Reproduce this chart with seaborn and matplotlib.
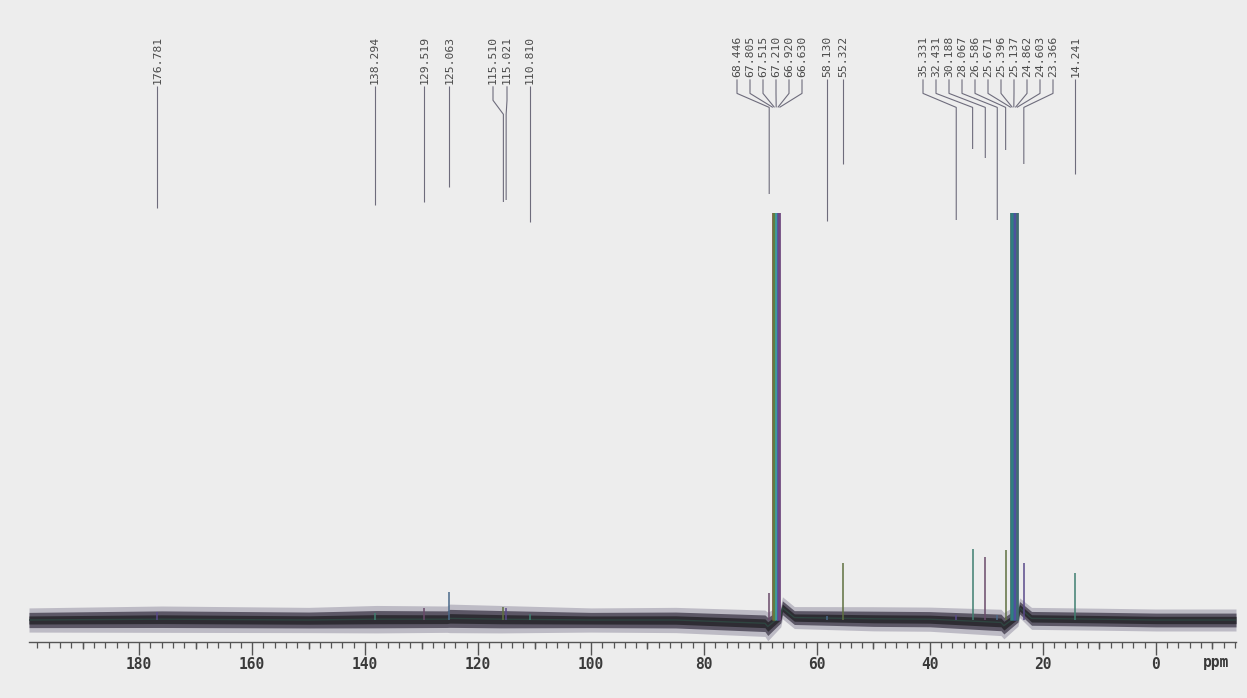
import numpy as np
import pandas as pd
import matplotlib
matplotlib.use("Agg")
import matplotlib.pyplot as plt
import seaborn as sns

# ---------------- data ----------------
peak_ppm = [176.781, 138.294, 129.519, 125.063, 115.510, 115.021, 110.810,
            68.446, 67.805, 67.515, 67.210, 66.920, 66.630,
            58.130, 55.322,
            35.331, 32.431, 30.188, 28.067, 26.586,
            25.671, 25.396, 25.137, 24.862, 24.603, 23.366, 14.241]
peak_labels = ["176.781", "138.294", "129.519", "125.063", "115.510", "115.021", "110.810",
               "68.446", "67.805", "67.515", "67.210", "66.920", "66.630",
               "58.130", "55.322",
               "35.331", "32.431", "30.188", "28.067", "26.586",
               "25.671", "25.396", "25.137", "24.862", "24.603", "23.366", "14.241"]
# relative intensity (1.0 = top of plotted window; larger = clipped)
peak_height = [0.020, 0.017, 0.030, 0.069, 0.032, 0.030, 0.015,
               0.066, 1.5, 1.5, 1.5, 1.5, 1.5,
               0.010, 0.140,
               0.012, 0.174, 0.154, 0.012, 0.172,
               1.5, 1.5, 1.5, 1.5, 1.5, 0.140, 0.115]

tick_values = [180, 160, 140, 120, 100, 80, 60, 40, 20, 0]
tick_labels = ["180", "160", "140", "120", "100", "80", "60", "40", "20", "0"]

# baseline noise envelope (centre and half-width)
noise_ppm = [199.5, 176.0, 150.0, 138.0, 125.5, 125.0, 116.0, 100.0, 85.0, 69.2, 68.7,
             66.4, 66.1, 64.0, 50.0, 40.0, 27.4, 26.9, 24.4, 24.1, 22.0, 10.0, 0.0, -14.2]
noise_mid = [0.000, 0.002, 0.000, 0.002, 0.002, 0.004, 0.002, 0.000, 0.000, -0.008, -0.016,
             0.010, 0.030, 0.006, 0.003, 0.002, -0.006, -0.014, 0.012, 0.030, 0.004,
             0.002, 0.000, 0.000]
noise_half = [0.022, 0.024, 0.023, 0.025, 0.024, 0.026, 0.025, 0.022, 0.023, 0.024, 0.026,
              0.020, 0.020, 0.020, 0.022, 0.022, 0.024, 0.024, 0.020, 0.018, 0.020,
              0.020, 0.020, 0.020]

peaks = pd.DataFrame({"ppm": peak_ppm, "label": peak_labels, "height": peak_height})

# ---------------- layout ----------------
W, H = 1247, 698
X0, X1 = 29, 1236          # x extent of the axis line (px)
YB, YT = 642, 213          # axis line / clip level (px)
XL = (199.5, -14.2)
BG = "#ededed"

sns.set_theme(style="white")
plt.rcParams["font.family"] = ["DejaVu Sans Mono", "DejaVu Sans"]

fig = plt.figure(figsize=(W / 100, H / 100), dpi=100, facecolor=BG)
ax = fig.add_axes([X0 / W, 1 - YB / H, (X1 - X0) / W, (YB - YT) / H])
ax.set_facecolor("none")
ax.set_xlim(*XL)
base_px = 22
ax.set_ylim(-base_px / (YB - YT - base_px), 1.0)

# baseline noise band
nm = np.array(noise_mid)
nh = np.array(noise_half)
ax.fill_between(noise_ppm, nm - nh * 1.35, nm + nh * 1.35, color="#77718a", alpha=0.40, lw=0)
ax.fill_between(noise_ppm, nm - nh * 0.85, nm + nh * 0.85, color="#4b4656", alpha=0.85, lw=0)
ax.fill_between(noise_ppm, nm - nh * 0.45, nm + nh * 0.45, color="#2e2c33", lw=0)
sns.lineplot(x=noise_ppm, y=noise_mid, ax=ax, color="#2f4440", lw=1.0, estimator=None)

# peaks
small_cols = ["#5a4a8a", "#3f7f70", "#6a4a6a", "#4a6a8a", "#5f7040"]
tall_cols = ["#7a6040", "#5f8040", "#3f9a9a", "#5050a0", "#704a80"]
tall_cols2 = ["#3f6f70", "#2f7f80", "#3a6a8a", "#5050a0", "#406a70"]
ti = 0
for i, r in peaks.iterrows():
    if r.height > 1:
        cols = tall_cols if r.ppm > 50 else tall_cols2
        ax.vlines(r.ppm, 0, r.height, colors=cols[ti % 5], lw=2.0)
        ti += 1
    else:
        ax.vlines(r.ppm, 0, r.height, colors=small_cols[i % 5], lw=1.1)

# axis styling
for s in ["top", "left", "right"]:
    ax.spines[s].set_visible(False)
ax.spines["bottom"].set_color("#555555")
ax.spines["bottom"].set_linewidth(1.0)
ax.set_yticks([])
ax.set_xticks(tick_values)
ax.set_xticklabels(tick_labels, fontweight="bold", fontsize=10.5, color="#3a3a3a")
ax.set_xticks(np.arange(-14, 200, 2), minor=True)
ax.tick_params(axis="x", which="major", direction="out", length=9, width=1.0,
               color="#555555", pad=1.5, bottom=True)
ax.tick_params(axis="x", which="minor", direction="out", length=4, width=0.9,
               color="#555555", bottom=True)
# medium ticks at odd tens
ax.vlines(np.arange(-10, 200, 20), 0, -6.5 / (YB - YT), transform=ax.get_xaxis_transform(),
          colors="#555555", lw=1.0, clip_on=False)
ax.annotate("ppm", xy=(-10.6, 0), xycoords=("data", "axes fraction"),
            xytext=(0, -15.0), textcoords="offset points", ha="center", va="center",
            fontsize=10.5, fontweight="bold", color="#3a3a3a")

# ---------------- peak labels ----------------
ov = fig.add_axes([X0 / W, 0, (X1 - X0) / W, 1])
ov.set_xlim(*XL)
ov.set_ylim(H, 0)
ov.axis("off")
ov.patch.set_alpha(0)

scale = (X1 - X0) / (XL[0] - XL[1])
def px2ppm(x):
    return XL[0] - (x - X0) / scale

groups = [[0], [1], [2], [3], [4, 5], [6], [7, 8, 9, 10, 11, 12], [13], [14],
          list(range(15, 26)), [26]]
group_center = {4: 500.0, 7: 769.5, 15: 988.0}
group_spacing = {4: 14.0, 7: 13.0, 15: 13.0}
stem_bottom = {0: 208, 1: 205, 2: 202, 3: 187, 4: 202, 5: 200, 6: 222, 7: 194,
               13: 221, 14: 164, 15: 220, 16: 149, 17: 158, 18: 220, 19: 150,
               25: 164, 26: 174}
LINE = "#6e6c7c"
TOP = 36
for g in groups:
    n = len(g)
    for k, i in enumerate(g):
        p = peak_ppm[i]
        lab = peak_labels[i]
        if n == 1:
            lx = p
        else:
            lx = px2ppm(group_center[g[0]] + (k - (n - 1) / 2) * group_spacing[g[0]])
        ov.text(lx, TOP, lab, rotation=90, ha="center", va="top", fontsize=8.2,
                color="#4a4a4a")
        tend = TOP + 6.9 * len(lab) + 2
        if n == 1:
            xs, ys = [p, p], [tend, stem_bottom.get(i, tend + 30)]
        else:
            ya = tend + 14
            yb = ya + 14
            xs, ys = [lx, lx, p], [tend, ya, yb]
            if i in stem_bottom:
                xs.append(p)
                ys.append(stem_bottom[i])
        ov.plot(xs, ys, color=LINE, lw=0.8, solid_capstyle="butt")

fig.savefig("out.png", dpi=100, facecolor=BG)
